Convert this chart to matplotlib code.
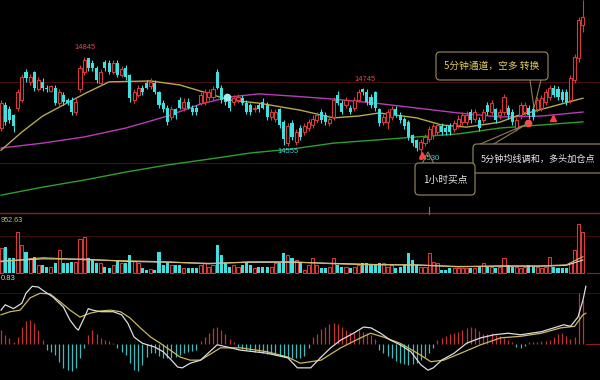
import matplotlib
matplotlib.use("Agg")
import matplotlib.pyplot as plt
import numpy as np
from matplotlib.patches import FancyBboxPatch
from matplotlib.lines import Line2D
from matplotlib.transforms import Affine2D

plt.rcParams["font.family"] = ["Noto Sans CJK SC", "DejaVu Sans"]

# --- 5 minute bars ---
opens = [14615, 14690, 14675, 14655, 14680, 14705, 14795, 14765, 14795, 14740,
         14765, 14745, 14735, 14745, 14695, 14720, 14705, 14705, 14665, 14740,
         14795, 14840, 14825, 14810, 14760, 14830, 14825, 14795, 14825, 14785,
         14810, 14785, 14705, 14720, 14745, 14760, 14750, 14760, 14730, 14695,
         14680, 14650, 14675, 14705, 14680, 14700, 14680, 14680, 14695, 14700,
         14715, 14715, 14795, 14745, 14715, 14705, 14700, 14705, 14710, 14695,
         14690, 14675, 14690, 14700, 14690, 14650, 14645, 14675, 14635, 14565,
         14630, 14570, 14615, 14600, 14615, 14625, 14640, 14665, 14655, 14630,
         14650, 14720, 14695, 14690, 14680, 14680, 14705, 14740, 14730, 14715,
         14730, 14675, 14635, 14635, 14650, 14675, 14655, 14645, 14635, 14590,
         14575, 14545, 14565, 14580, 14590, 14600, 14620, 14615, 14620, 14610,
         14625, 14635, 14635, 14665, 14645, 14640, 14640, 14690, 14665, 14675,
         14655, 14665, 14680, 14665, 14615, 14655, 14665, 14680, 14675, 14675,
         14680, 14700, 14715, 14745, 14740, 14730, 14730, 14705, 14770, 14840,
         14950]
highs = [14705, 14700, 14685, 14660, 14740, 14790, 14805, 14790, 14800, 14780,
         14775, 14755, 14755, 14755, 14740, 14730, 14712, 14715, 14710, 14820,
         14845, 14840, 14835, 14815, 14805, 14835, 14835, 14835, 14835, 14815,
         14820, 14790, 14740, 14755, 14755, 14770, 14775, 14770, 14735, 14705,
         14690, 14685, 14680, 14715, 14710, 14710, 14690, 14690, 14730, 14740,
         14740, 14750, 14805, 14755, 14720, 14715, 14720, 14725, 14720, 14705,
         14695, 14690, 14695, 14710, 14700, 14675, 14675, 14680, 14640, 14630,
         14640, 14610, 14625, 14630, 14645, 14655, 14665, 14675, 14665, 14655,
         14715, 14735, 14705, 14715, 14690, 14715, 14740, 14745, 14740, 14725,
         14735, 14680, 14660, 14675, 14685, 14685, 14665, 14650, 14640, 14595,
         14580, 14580, 14595, 14620, 14630, 14635, 14630, 14625, 14630, 14640,
         14655, 14665, 14670, 14675, 14675, 14650, 14675, 14700, 14705, 14680,
         14675, 14725, 14690, 14675, 14650, 14700, 14700, 14690, 14685, 14715,
         14720, 14740, 14755, 14755, 14750, 14740, 14740, 14785, 14855, 14975,
         15030]
lows = [14605, 14625, 14630, 14600, 14670, 14700, 14765, 14755, 14735, 14735,
        14735, 14730, 14730, 14690, 14685, 14690, 14688, 14655, 14655, 14730,
        14785, 14800, 14800, 14760, 14755, 14800, 14790, 14790, 14780, 14780,
        14770, 14700, 14695, 14715, 14720, 14740, 14740, 14725, 14680, 14665,
        14625, 14640, 14645, 14675, 14670, 14675, 14655, 14655, 14690, 14690,
        14705, 14705, 14740, 14695, 14690, 14670, 14690, 14695, 14690, 14660,
        14655, 14665, 14665, 14675, 14640, 14640, 14635, 14615, 14560, 14555,
        14575, 14560, 14575, 14590, 14605, 14615, 14630, 14630, 14625, 14620,
        14640, 14690, 14660, 14680, 14660, 14670, 14700, 14720, 14690, 14680,
        14670, 14620, 14625, 14610, 14640, 14650, 14630, 14610, 14575, 14555,
        14540, 14530, 14555, 14570, 14580, 14590, 14590, 14590, 14590, 14600,
        14615, 14625, 14625, 14630, 14635, 14605, 14630, 14655, 14655, 14630,
        14645, 14655, 14645, 14625, 14605, 14645, 14655, 14645, 14640, 14665,
        14670, 14690, 14705, 14715, 14705, 14700, 14690, 14695, 14760, 14830,
        14925]
closes = [14695, 14635, 14640, 14620, 14730, 14780, 14775, 14780, 14745, 14770,
          14745, 14740, 14750, 14695, 14730, 14700, 14695, 14665, 14700, 14810,
          14835, 14810, 14810, 14770, 14795, 14810, 14795, 14825, 14785, 14805,
          14780, 14710, 14730, 14745, 14730, 14745, 14765, 14730, 14690, 14675,
          14635, 14675, 14655, 14680, 14700, 14680, 14665, 14665, 14720, 14730,
          14730, 14740, 14745, 14705, 14700, 14680, 14710, 14715, 14695, 14665,
          14665, 14680, 14675, 14680, 14650, 14665, 14665, 14625, 14580, 14620,
          14585, 14600, 14585, 14620, 14635, 14645, 14655, 14640, 14635, 14645,
          14705, 14695, 14665, 14705, 14665, 14705, 14730, 14730, 14700, 14690,
          14680, 14630, 14650, 14665, 14675, 14655, 14640, 14620, 14585, 14565,
          14550, 14570, 14585, 14610, 14620, 14625, 14600, 14600, 14600, 14630,
          14645, 14655, 14655, 14640, 14665, 14615, 14665, 14665, 14695, 14640,
          14665, 14715, 14655, 14635, 14640, 14690, 14690, 14655, 14650, 14705,
          14710, 14730, 14745, 14720, 14715, 14705, 14700, 14775, 14845, 14965,
          14975]
volumes = [450, 468, 270, 270, 720, 504, 378, 270, 288, 144, 144, 108, 108,
           180, 414, 180, 180, 198, 198, 594, 630, 270, 234, 180, 180, 108, 90,
           144, 234, 180, 180, 324, 216, 180, 90, 54, 72, 54, 378, 144, 180, 144,
           144, 144, 90, 90, 90, 90, 144, 180, 108, 144, 504, 324, 180, 108, 144,
           108, 144, 198, 144, 90, 108, 108, 108, 108, 180, 180, 360, 324, 270,
           234, 180, 54, 144, 270, 144, 90, 90, 108, 270, 144, 108, 108, 90, 108,
           144, 180, 180, 144, 144, 180, 180, 108, 144, 90, 108, 144, 360, 234,
           144, 108, 108, 360, 198, 180, 54, 54, 90, 90, 90, 90, 90, 90, 90, 108,
           180, 108, 108, 90, 108, 270, 144, 108, 108, 90, 108, 144, 108, 108, 90,
           108, 288, 108, 90, 90, 90, 180, 414, 864, 720]
macd_hist = [0.18, 0.12, 0.08, 0.03, 0.09, 0.22, 0.30, 0.31, 0.27, 0.18, 0.05, -0.08,
             -0.10, -0.14, -0.23, -0.31, -0.34, -0.35, -0.31, -0.18, -0.05, 0.12,
             0.18, 0.13, 0.08, 0.05, 0.04, 0.01, -0.05, -0.10,
             -0.14, -0.25, -0.34, -0.35, -0.27, -0.17, -0.12, -0.12, -0.16, -0.18,
             -0.18, -0.18, -0.17, -0.14, -0.12, -0.10, -0.09, -0.08, 0.04, 0.09,
             0.14, 0.21, 0.22, 0.18, 0.13, 0.07, 0.03, -0.04, -0.07, -0.08,
             -0.09, -0.10, -0.10, -0.12, -0.13, -0.13, -0.14, -0.16, -0.17, -0.18,
             -0.18, -0.18, -0.18, -0.16, -0.05, 0.09, 0.13,
             0.20, 0.22, 0.26, 0.27, 0.26,
             0.22, 0.18, 0.16, 0.14, 0.18, 0.16, 0.14, 0.12, 0.07, -0.08, -0.12,
             -0.16, -0.18, -0.22,
             -0.25, -0.26, -0.27, -0.26, -0.25, -0.21, -0.17, -0.12, -0.05, 0.05,
             0.08, 0.10, 0.13, 0.14, 0.16, 0.18, 0.21, 0.22, 0.21, 0.17,
             0.13, 0.13, 0.14, 0.12, 0.10, 0.08, 0.05, 0.03, -0.04, -0.05,
             -0.03, 0.03, 0.03, 0.03, 0.04, 0.04, 0.05, 0.09, 0.13, 0.14,
             0.10, 0.07, 0.09, 0.66, 0.57]

# moving average lines, sampled at bar positions
ma_fast_idx = [0, 5, 10, 15, 20, 26, 36, 43, 48, 55, 62, 72, 80, 86, 91, 100, 106, 112, 120, 124, 132, 140]
ma_fast = [14542, 14601, 14653, 14689, 14725, 14764, 14767, 14754, 14734, 14705, 14695,
           14672, 14647, 14653, 14663, 14647, 14624, 14617, 14633, 14653, 14682, 14711]
ma_mid_idx = [0, 10, 20, 30, 36, 40, 44, 48, 55, 62, 70, 80, 90, 100, 110, 120, 130, 140]
ma_mid = [14549, 14565, 14585, 14614, 14637, 14653, 14672, 14692, 14715, 14725, 14718,
          14708, 14695, 14679, 14663, 14650, 14653, 14666]
ma_slow_idx = [0, 10, 20, 30, 40, 50, 60, 70, 80, 90, 100, 110, 120, 130, 140]
ma_slow = [14396, 14422, 14445, 14471, 14494, 14513, 14533, 14546, 14565, 14575, 14585,
           14595, 14614, 14624, 14634]

vol_ma_idx = [0, 10, 20, 30, 40, 50, 60, 70, 80, 90, 100, 110, 120, 130, 136, 140]
vol_ma5 = [198, 270, 234, 216, 198, 162, 198, 198, 162, 144, 144, 108, 126, 126, 144, 288]
vol_ma10 = [210, 250, 245, 205, 190, 170, 190, 190, 170, 150, 140, 115, 120, 120, 135, 230]

dif_idx = [0, 1, 3, 5, 6, 7.5, 9, 10, 12.5, 15, 16.6, 18, 18.6, 20, 21, 22, 24, 27, 29, 30.5,
           32, 34, 37, 39, 41, 42.5, 43.6, 45.5, 48, 52, 54.5, 57.6, 64, 69, 71.3, 74.5, 77,
           79.3, 81.7, 84.8, 87.2, 89, 91.3, 93.7, 96, 98.6, 101, 102.7, 104, 106, 109, 112,
           115.4, 118.6, 122, 125, 127.5, 130, 133, 135.4, 137, 138.8, 140, 140.7]
dif = [0.44, 0.51, 0.46, 0.53, 0.66, 0.75, 0.74, 0.70, 0.61, 0.48, 0.31, 0.21, 0.18, 0.34,
       0.46, 0.44, 0.42, 0.42, 0.38, 0.27, 0.09, 0.01, -0.04, -0.10, -0.21, -0.30, -0.31,
       -0.25, -0.21, -0.01, -0.04, -0.08, -0.12, -0.18, -0.31, -0.31, -0.17, -0.05, 0.05,
       0.14, 0.22, 0.21, 0.14, 0.05, -0.01, -0.10, -0.27, -0.34, -0.31, -0.21, -0.12, 0.01,
       0.08, 0.12, 0.14, 0.12, 0.14, 0.16, 0.21, 0.25, 0.23, 0.35, 0.57, 0.75]
dea_idx = [0, 2.2, 4.6, 7, 9.4, 11.8, 14.2, 16.6, 19, 21.4, 24, 26.3, 28.7, 31, 33.5, 36, 38.3,
           40.7, 43.1, 45.5, 48, 52.8, 57.6, 64, 69, 72, 77, 81.7, 86.5, 88.9, 92, 96, 100.2,
           103.4, 106.5, 110.6, 115.4, 120.2, 125, 130, 134.7, 138, 140, 140.7]
dea = [0.38, 0.42, 0.44, 0.60, 0.66, 0.65, 0.55, 0.44, 0.35, 0.40, 0.43, 0.44, 0.42, 0.34,
       0.21, 0.09, 0.01, -0.08, -0.17, -0.21, -0.21, -0.05, -0.05, -0.10, -0.17, -0.25, -0.21,
       -0.05, 0.08, 0.14, 0.09, 0.01, -0.12, -0.23, -0.21, -0.12, -0.01, 0.08, 0.10, 0.14,
       0.21, 0.23, 0.38, 0.40]

vol_label = "952.63"
macd_label = "0.83"
note_channel = "5分钟通道，空多 转换"
note_ma = "5分钟均线调和，多头加仓点"
note_hour = "1小时买点"

UP, DOWN = "#d83a3a", "#3ee0e0"
BOX = "#8a7d58"
W, H = 600, 380

fig = plt.figure(figsize=(6, 3.8), dpi=100, facecolor="black")
# screen-pixel transform (origin top-left) for the hand-drawn notes
px = Affine2D().scale(1 / 100, -1 / 100).translate(0, 3.8) + fig.dpi_scale_trans


def panel(top, bottom, ylim):
    ax = fig.add_axes([0, 1 - bottom / H, 1, (bottom - top) / H])
    ax.set_xlim(-0.25, 144.1)
    ax.set_ylim(*ylim)
    ax.axis("off")
    return ax


ax_p = panel(0, 213, (14338, 15030))
ax_v = panel(213, 275, (-36, 1062))
ax_m = panel(275, 380, (-0.468, 0.897))

o, h, l, c = map(np.array, (opens, highs, lows, closes))
x = np.arange(len(c))
up = c >= o
cols = np.where(up, UP, DOWN)

# --- price panel ---
for lvl in (14763, 14500):
    ax_p.axhline(lvl, color="#4a1010", lw=0.7, zorder=0)
ax_p.plot(ma_slow_idx, ma_slow, color="#2f9e2f", lw=1.0, zorder=1)
ax_p.plot(ma_mid_idx, ma_mid, color="#b83cb8", lw=1.0, zorder=1)
ax_p.plot(ma_fast_idx, ma_fast, color="#b8a850", lw=1.0, zorder=1)

ax_p.vlines(x, l, h, colors=cols, lw=0.8, zorder=2)
body_lo = np.minimum(o, c)
body_h = np.maximum(np.abs(c - o), 2)
ax_p.bar(x[up], body_h[up], bottom=body_lo[up], width=0.74,
         facecolor="black", edgecolor=UP, linewidth=0.8, zorder=3)
ax_p.bar(x[~up], body_h[~up], bottom=body_lo[~up], width=0.74,
         color=DOWN, linewidth=0, zorder=3)

lab = dict(fontsize=5.5, family="Liberation Sans", ha="center", va="center",
           textcoords="offset points")
ax_p.annotate("14845", (20, highs[20]), xytext=(1, 7), color="#e04848", **lab)
ax_p.annotate("14745", (87, highs[87]), xytext=(2, 6), color="#e04848", **lab)
ax_p.annotate("14555", (69, lows[69]), xytext=(0, -4), color="#3ed0d0", **lab)
ax_p.annotate("14530", (101, lows[101]), xytext=(6, -3), color="#3ed0d0", zorder=4, **lab)

# signal markers
ax_p.plot(101.3, 14528, marker="^", ms=5, color="#ff4040", zorder=5)
ax_p.plot(126.8, 14630, marker="o", ms=4.5, color="#ff4848", zorder=5)
ax_p.plot(132.8, 14648, marker="^", ms=5, color="#ff4040", zorder=5)
ax_p.plot(54.4, 14715, marker="o", ms=4.5, color="#9ff0f0", zorder=5)

# --- volume panel ---
ax_v.axhline(648, color="#4a1010", lw=0.6, zorder=0)
v = np.array(volumes)
ax_v.bar(x[up], v[up], width=0.74, facecolor="black", edgecolor=UP, linewidth=0.8)
ax_v.bar(x[~up], v[~up], width=0.74, color=DOWN, linewidth=0)
ax_v.plot(vol_ma_idx, vol_ma10, color="#d8d8d8", lw=0.8)
ax_v.plot(vol_ma_idx, vol_ma5, color="#d0b860", lw=0.8)

# --- MACD panel ---
ax_m.axhline(0.663, color="#4a1010", lw=0.6, zorder=0)
mh = np.array(macd_hist)
ax_m.vlines(x, 0, mh, colors=np.where(mh >= 0, "#c03434", "#3cbcbc"), lw=0.9)
ax_m.plot(dea_idx, dea, color="#c8b860", lw=0.9)
ax_m.plot(dif_idx, dif, color="#dcdcdc", lw=0.9)

# panel frame lines
fig.add_artist(Line2D([0, W], [213, 213], transform=px, color="#8c2020", lw=1.0))
fig.add_artist(Line2D([587, W], [273, 273], transform=px, color="#8c2020", lw=0.8))
fig.add_artist(Line2D([586, W], [344, 344], transform=px, color="#8c2020", lw=0.8))
fig.add_artist(Line2D([429, 429], [207, 214], transform=px, color="#777777", lw=0.8))

fig.text(0.5, 220, vol_label, transform=px, color="#c8c060", fontsize=5.2,
         family="Liberation Sans", va="center")
fig.text(1, 279, macd_label, transform=px, color="#d0d0d0", fontsize=5.5,
         family="Liberation Sans", va="center")

# --- call-out boxes ---
def note_box(x0, y0, x1, y1):
    fig.add_artist(FancyBboxPatch((x0, y0), x1 - x0, y1 - y0, transform=px,
                                  boxstyle="round,pad=0,rounding_size=4",
                                  facecolor="black", edgecolor=BOX, lw=0.9, zorder=6))


def pointer(pts):
    xs, ys = zip(*pts)
    fig.add_artist(Line2D(xs, ys, transform=px, color=BOX, lw=0.8, zorder=6))


pointer([(530, 80), (534, 108), (541, 80)])
note_box(436, 52, 548, 80)
fig.text(492, 66, note_channel, transform=px, color="#e0cc60", fontsize=7,
         ha="center", va="center", zorder=7)

pointer([(478, 145), (527, 124), (492, 145)])
note_box(473, 144, 610, 173)
fig.text(481, 159, note_ma, transform=px, color="#e8e8e8", fontsize=6.6,
         ha="left", va="center", zorder=7)

pointer([(422, 164), (428, 152), (434, 164)])
note_box(415, 163, 475, 195)
fig.text(445, 180, note_hour, transform=px, color="#e8e8e8", fontsize=7,
         ha="center", va="center", zorder=7)

fig.savefig("out.png", dpi=100, facecolor="black")
plt.close(fig)
